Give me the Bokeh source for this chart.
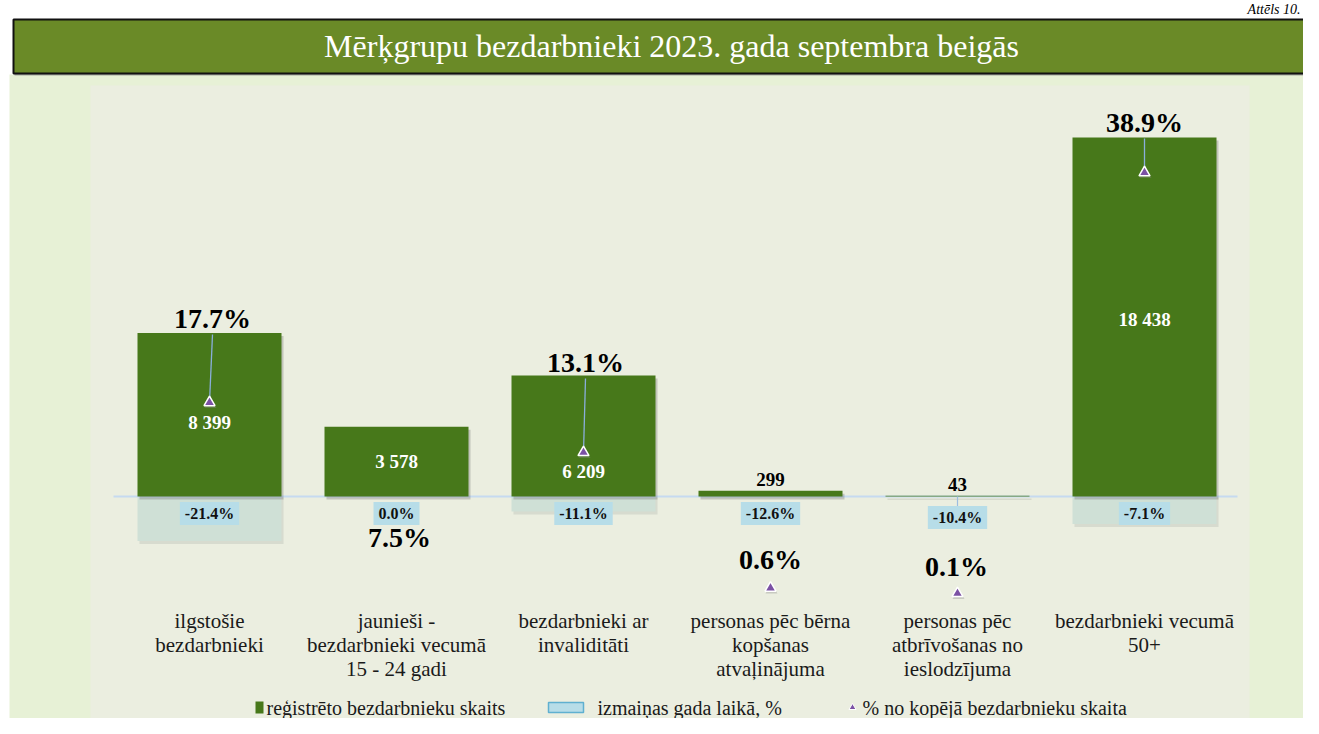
from bokeh.plotting import figure
from bokeh.models import Range1d, ColumnDataSource
from bokeh.core.properties import value
from bokeh.embed import file_html
from bokeh.resources import INLINE

# ---------------- data ----------------
categories = [
    "ilgstošie\nbezdarbnieki",
    "jaunieši -\nbezdarbnieki vecumā\n15 - 24 gadi",
    "bezdarbnieki ar\ninvaliditāti",
    "personas pēc bērna\nkopšanas\natvaļinājuma",
    "personas pēc\natbrīvošanas no\nieslodzījuma",
    "bezdarbnieki vecumā\n50+",
]
registered = [8399, 3578, 6209, 299, 43, 18438]
count_labels = ["8 399", "3 578", "6 209", "299", "43", "18 438"]
change_pct = [-21.4, 0.0, -11.1, -12.6, -10.4, -7.1]
share_pct = [17.7, 7.5, 13.1, 0.6, 0.1, 38.9]

title_text = "Mērķgrupu bezdarbnieki 2023. gada septembra beigās"
figure_no = "Attēls 10."
legend_labels = ["reģistrēto bezdarbnieku skaits", "izmaiņas gada laikā, %",
                 "% no kopējā bezdarbnieku skaita"]

# label placement tweaks (pixels)
count_label_dy = [8, 0, 35, 0, 0, 2]
change_label_dy = [17, 17, 17, 17, 21, 17]
share_label_dy = [-84, 24, -90, -28, -27, -50]
share_label_dx = [3, 3, 2, 0, -1, 0]

# ---------------- geometry ----------------
W, H = 1303, 718
UPX = 51.36             # persons per pixel
ZERO_Y = 496            # pixel y of zero line
PPX = 0.0922            # percent per pixel (share axis)
PCT_ZERO_Y = 594
CAT_X0 = 209
CAT_STEP = 187


def X(px):
    return (px - CAT_X0) / CAT_STEP


def Y(py):
    return (ZERO_Y - py) * UPX


x_range = Range1d(X(0), X(W))
y_range = Range1d(Y(H), Y(0))
pct_range = Range1d(-(H - PCT_ZERO_Y) * PPX, PCT_ZERO_Y * PPX)

p = figure(width=W, height=H, x_range=x_range, y_range=y_range,
           output_backend="svg", toolbar_location=None, min_border=0,
           x_axis_location=None, y_axis_location=None,
           background_fill_color="white", border_fill_color="white",
           outline_line_color=None)
p.extra_y_ranges = {"pct": pct_range}
p.xgrid.grid_line_color = None
p.ygrid.grid_line_color = None

SERIF = value("Liberation Serif")

# backgrounds
p.quad(left=X(9), right=X(1340), top=Y(74), bottom=Y(760),
       fill_color="#e7f1d6", line_color=None)
p.quad(left=X(90), right=X(1249), top=Y(85), bottom=Y(760),
       fill_color="#ebeee0", line_color=None)

# title bar
p.quad(left=X(14), right=X(1345), top=Y(20), bottom=Y(75),
       fill_color="#7a7a7a", line_color=None, fill_alpha=0.6)
p.quad(left=X(13), right=X(1345), top=Y(19), bottom=Y(73),
       fill_color="#6a8a27", line_color="#111111", line_width=2)
p.text(x=[X(671)], y=[Y(45)], text=[title_text], text_color="white",
       text_font=SERIF, text_font_size="32px", text_align="center",
       text_baseline="middle")
p.text(x=[X(1300)], y=[Y(1)], text=[figure_no], text_color="black",
       text_font=SERIF, text_font_size="14px", text_font_style="italic",
       text_align="right", text_baseline="top")

xs = list(range(len(categories)))
change_abs = [r - r / (1 + c / 100.0) for r, c in zip(registered, change_pct)]
bar_w = 144 / CAT_STEP
sh_dx = 2 / CAT_STEP
sh_dy = 3 * UPX

src = ColumnDataSource(dict(x=xs, reg=registered, chg=change_abs))

# change bars (behind)
p.vbar(x=[x + sh_dx for x in xs], top=[0] * len(xs),
       bottom=[c - sh_dy if c < -sh_dy else 0 for c in change_abs],
       width=bar_w, fill_color="#9aa59a", fill_alpha=0.25, line_color=None)
p.vbar(x="x", top=0, bottom="chg", width=bar_w, source=src,
       fill_color="#cfe0d6", line_color=None)

# zero line
p.segment(x0=[X(113)], x1=[X(1237)], y0=[0], y1=[0],
          line_color="#c6daf0", line_width=2)

# registered bars (with soft shadow)
p.vbar(x=[x + sh_dx for x in xs], top=[r - sh_dy for r in registered],
       bottom=-sh_dy, width=bar_w, fill_color="#5a5a5a", fill_alpha=0.28,
       line_color=None)
p.vbar(x="x", top="reg", bottom=0, width=bar_w, source=src,
       fill_color="#47781a", line_color=None)

# count labels
big = [i for i, r in enumerate(registered) if r > 1000]
small = [i for i, r in enumerate(registered) if r <= 1000]
p.text(x=[xs[i] for i in big], y=[registered[i] / 2 for i in big],
       text=[count_labels[i] for i in big],
       y_offset=[count_label_dy[i] for i in big],
       text_color="white", text_font=SERIF, text_font_size="19px",
       text_font_style="bold", text_align="center", text_baseline="middle")
p.text(x=[xs[i] for i in small], y=[registered[i] for i in small],
       text=[count_labels[i] for i in small],
       text_color="black", text_font=SERIF, text_font_size="19px",
       text_font_style="bold", text_align="center", text_baseline="bottom",
       y_offset=-5)

# share leaders, triangles and labels
share_label_y = [s - d * PPX for s, d in zip(share_pct, share_label_dy)]
share_label_x = [x + d / CAT_STEP for x, d in zip(xs, share_label_dx)]
lead = [i for i, d in enumerate(share_label_dy) if d < -40]
p.segment(x0=[xs[i] for i in lead], x1=[share_label_x[i] for i in lead],
          y0=[share_pct[i] for i in lead],
          y1=[share_label_y[i] - 16 * PPX for i in lead],
          line_color="#8aaedc", line_width=1.3, y_range_name="pct")
p.scatter(x=[x + 1 / CAT_STEP for x in xs], y=[s - 2 * PPX for s in share_pct],
          marker="triangle", size=12, fill_color="#888888", fill_alpha=0.35,
          line_color=None, y_range_name="pct")
p.scatter(x=xs, y=share_pct, marker="triangle", size=11,
          fill_color="#7b51a4", line_color="white", line_width=1.5,
          y_range_name="pct")
p.text(x=share_label_x, y=share_label_y,
       text=[f"{s:.1f}%" for s in share_pct],
       text_color="black", text_font=SERIF, text_font_size="28px",
       text_font_style="bold", text_align="center", text_baseline="middle",
       y_range_name="pct")

# leader for displaced change label
p.segment(x0=[xs[4]], x1=[xs[4]], y0=[0], y1=[-(change_label_dy[4] - 11) * UPX],
          line_color="#9dbde0", line_width=1.2)

# change labels
p.text(x=xs, y=[0] * len(xs), text=[f"{c:.1f}%" for c in change_pct],
       y_offset=change_label_dy, text_color="#111111", text_font=SERIF,
       text_font_size="16px", text_font_style="bold", text_align="center",
       text_baseline="middle", background_fill_color="#b7dde8",
       padding=(5, 3))

# category labels
p.text(x=xs, y=[Y(608)] * len(xs), text=categories, text_color="#1a1a1a",
       text_font=SERIF, text_font_size="21px", text_align="center",
       text_baseline="top", text_line_height=1.02)

# legend (manual)
LY = 707
p.quad(left=[X(255)], right=[X(263)], top=[Y(LY - 6)], bottom=[Y(LY + 6)],
       fill_color="#47781a", line_color=None)
p.quad(left=[X(548)], right=[X(583)], top=[Y(LY - 5)], bottom=[Y(LY + 5)],
       fill_color="#b7dde8", line_color="#5fb0d0", line_width=1.5)
p.scatter(x=[X(852)], y=[Y(LY)], marker="triangle", size=7,
          fill_color="#7b51a4", line_color="white", line_width=1)
p.text(x=[X(266), X(597), X(862)], y=[Y(LY)] * 3, text=legend_labels,
       text_color="#1a1a1a", text_font=SERIF, text_font_size="20px",
       text_align="left", text_baseline="middle")

open("out.html", "w").write(file_html(p, INLINE))
